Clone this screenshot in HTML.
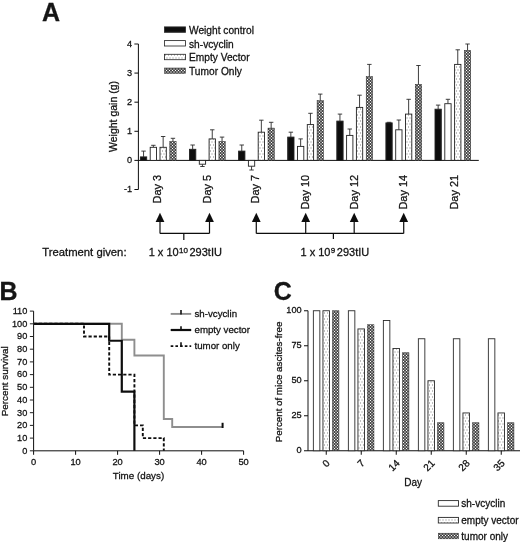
<!DOCTYPE html>
<html><head><meta charset="utf-8"><title>Figure</title>
<style>
html,body{margin:0;padding:0;background:#fff;}
body{width:520px;height:542px;overflow:hidden;font-family:"Liberation Sans",sans-serif;}
svg{display:block;}
text{font-family:"Liberation Sans",sans-serif;fill:#141414;stroke:#141414;stroke-width:0.28px;}
</style></head><body>
<svg width="520" height="542" viewBox="0 0 520 542">
<defs>
<pattern id="dots" width="3" height="6" patternUnits="userSpaceOnUse">
<rect width="3" height="6" fill="#fff"/><rect x="0" y="0.5" width="1" height="1" fill="#7d7d7d"/><rect x="1.5" y="3.5" width="1" height="1" fill="#7d7d7d"/>
</pattern>
<pattern id="hatch" width="3" height="3" patternUnits="userSpaceOnUse">
<rect width="3" height="3" fill="#0c0c0c"/>
<path d="M1.5 0.5L2.5 1.5L1.5 2.5L0.5 1.5ZM0 -1.0L1.0 0L0 1.0L-1.0 0ZM3 -1.0L4.0 0L3 1.0L2.0 0ZM0 2.0L1.0 3L0 4.0L-1.0 3ZM3 2.0L4.0 3L3 4.0L2.0 3Z" fill="#fff"/>
</pattern>
<filter id="soft" x="0" y="0" width="520" height="542" filterUnits="userSpaceOnUse"><feGaussianBlur stdDeviation="0.35"/></filter>
</defs>
<rect width="520" height="542" fill="#fff"/>
<g filter="url(#soft)">

<g id="panelA">
<text x="42" y="21" font-size="25" font-weight="bold">A</text>
<path d="M138.4 44.0V189.5M138.4 160.4H478.8" stroke="#111" stroke-width="1" fill="none"/>
<path d="M134.4 44.0H138.4" stroke="#111" stroke-width="1"/>
<text x="132.1" y="47" font-size="9.2" text-anchor="end">4</text>
<path d="M134.4 73.1H138.4" stroke="#111" stroke-width="1"/>
<text x="132.1" y="76" font-size="9.2" text-anchor="end">3</text>
<path d="M134.4 102.2H138.4" stroke="#111" stroke-width="1"/>
<text x="132.1" y="105" font-size="9.2" text-anchor="end">2</text>
<path d="M134.4 131.3H138.4" stroke="#111" stroke-width="1"/>
<text x="132.1" y="134" font-size="9.2" text-anchor="end">1</text>
<path d="M134.4 160.4H138.4" stroke="#111" stroke-width="1"/>
<text x="132.1" y="163" font-size="9.2" text-anchor="end">0</text>
<path d="M134.4 189.5H138.4" stroke="#111" stroke-width="1"/>
<text x="132.1" y="192" font-size="9.2" text-anchor="end">-1</text>
<text transform="translate(117.3 116.5) rotate(-90) scale(1.05 1)" font-size="10" text-anchor="middle">Weight gain (g)</text>
<path d="M143.55 156.9V151.1M141.35 151.1H145.75" stroke="#2a2a2a" stroke-width="0.9" fill="none"/>
<rect x="140.40" y="156.9" width="6.3" height="3.5" fill="#111" stroke="#222" stroke-width="0.9"/>
<path d="M153.35 147.3V145.3M151.15 145.3H155.55" stroke="#2a2a2a" stroke-width="0.9" fill="none"/>
<rect x="150.20" y="147.3" width="6.3" height="13.1" fill="#fff" stroke="#222" stroke-width="0.9"/>
<path d="M163.15 147.3V136.5M160.95 136.5H165.35" stroke="#2a2a2a" stroke-width="0.9" fill="none"/>
<rect x="160.00" y="147.3" width="6.3" height="13.1" fill="url(#dots)" stroke="#222" stroke-width="0.9"/>
<path d="M172.95 141.5V138.3M170.75 138.3H175.15" stroke="#2a2a2a" stroke-width="0.9" fill="none"/>
<path d="M192.65 149.3V145.0M190.45 145.0H194.85" stroke="#2a2a2a" stroke-width="0.9" fill="none"/>
<rect x="189.50" y="149.3" width="6.3" height="11.1" fill="#111" stroke="#222" stroke-width="0.9"/>
<path d="M202.45 164.2V166.5M200.25 166.5H204.65" stroke="#2a2a2a" stroke-width="0.9" fill="none"/>
<rect x="199.30" y="160.4" width="6.3" height="3.8" fill="#fff" stroke="#222" stroke-width="0.9"/>
<path d="M212.25 138.9V129.8M210.05 129.8H214.45" stroke="#2a2a2a" stroke-width="0.9" fill="none"/>
<rect x="209.10" y="138.9" width="6.3" height="21.5" fill="url(#dots)" stroke="#222" stroke-width="0.9"/>
<path d="M222.05 141.5V137.1M219.85 137.1H224.25" stroke="#2a2a2a" stroke-width="0.9" fill="none"/>
<path d="M241.75 151.1V145.0M239.55 145.0H243.95" stroke="#2a2a2a" stroke-width="0.9" fill="none"/>
<rect x="238.60" y="151.1" width="6.3" height="9.3" fill="#111" stroke="#222" stroke-width="0.9"/>
<path d="M251.55 166.2V170.0M249.35 170.0H253.75" stroke="#2a2a2a" stroke-width="0.9" fill="none"/>
<rect x="248.40" y="160.4" width="6.3" height="5.8" fill="#fff" stroke="#222" stroke-width="0.9"/>
<path d="M261.35 132.2V120.2M259.15 120.2H263.55" stroke="#2a2a2a" stroke-width="0.9" fill="none"/>
<rect x="258.20" y="132.2" width="6.3" height="28.2" fill="url(#dots)" stroke="#222" stroke-width="0.9"/>
<path d="M271.15 128.1V122.3M268.95 122.3H273.35" stroke="#2a2a2a" stroke-width="0.9" fill="none"/>
<path d="M290.85 137.1V132.2M288.65 132.2H293.05" stroke="#2a2a2a" stroke-width="0.9" fill="none"/>
<rect x="287.70" y="137.1" width="6.3" height="23.3" fill="#111" stroke="#222" stroke-width="0.9"/>
<path d="M300.65 146.4V138.9M298.45 138.9H302.85" stroke="#2a2a2a" stroke-width="0.9" fill="none"/>
<rect x="297.50" y="146.4" width="6.3" height="14.0" fill="#fff" stroke="#222" stroke-width="0.9"/>
<path d="M310.45 124.6V113.3M308.25 113.3H312.65" stroke="#2a2a2a" stroke-width="0.9" fill="none"/>
<rect x="307.30" y="124.6" width="6.3" height="35.8" fill="url(#dots)" stroke="#222" stroke-width="0.9"/>
<path d="M320.25 100.7V94.1M318.05 94.1H322.45" stroke="#2a2a2a" stroke-width="0.9" fill="none"/>
<path d="M339.95 121.1V114.1M337.75 114.1H342.15" stroke="#2a2a2a" stroke-width="0.9" fill="none"/>
<rect x="336.80" y="121.1" width="6.3" height="39.3" fill="#111" stroke="#222" stroke-width="0.9"/>
<path d="M349.75 135.4V129.0M347.55 129.0H351.95" stroke="#2a2a2a" stroke-width="0.9" fill="none"/>
<rect x="346.60" y="135.4" width="6.3" height="25.0" fill="#fff" stroke="#222" stroke-width="0.9"/>
<path d="M359.55 107.4V95.2M357.35 95.2H361.75" stroke="#2a2a2a" stroke-width="0.9" fill="none"/>
<rect x="356.40" y="107.4" width="6.3" height="53.0" fill="url(#dots)" stroke="#222" stroke-width="0.9"/>
<path d="M369.35 76.6V64.4M367.15 64.4H371.55" stroke="#2a2a2a" stroke-width="0.9" fill="none"/>
<path d="M389.05 122.9V122.3M386.85 122.3H391.25" stroke="#2a2a2a" stroke-width="0.9" fill="none"/>
<rect x="385.90" y="122.9" width="6.3" height="37.5" fill="#111" stroke="#222" stroke-width="0.9"/>
<path d="M398.85 129.8V120.0M396.65 120.0H401.05" stroke="#2a2a2a" stroke-width="0.9" fill="none"/>
<rect x="395.70" y="129.8" width="6.3" height="30.6" fill="#fff" stroke="#222" stroke-width="0.9"/>
<path d="M408.65 114.1V99.3M406.45 99.3H410.85" stroke="#2a2a2a" stroke-width="0.9" fill="none"/>
<rect x="405.50" y="114.1" width="6.3" height="46.3" fill="url(#dots)" stroke="#222" stroke-width="0.9"/>
<path d="M418.45 84.4V65.5M416.25 65.5H420.65" stroke="#2a2a2a" stroke-width="0.9" fill="none"/>
<path d="M438.15 109.2V105.1M435.95 105.1H440.35" stroke="#2a2a2a" stroke-width="0.9" fill="none"/>
<rect x="435.00" y="109.2" width="6.3" height="51.2" fill="#111" stroke="#222" stroke-width="0.9"/>
<path d="M447.95 103.7V99.3M445.75 99.3H450.15" stroke="#2a2a2a" stroke-width="0.9" fill="none"/>
<rect x="444.80" y="103.7" width="6.3" height="56.7" fill="#fff" stroke="#222" stroke-width="0.9"/>
<path d="M457.75 64.4V49.8M455.55 49.8H459.95" stroke="#2a2a2a" stroke-width="0.9" fill="none"/>
<rect x="454.60" y="64.4" width="6.3" height="96.0" fill="url(#dots)" stroke="#222" stroke-width="0.9"/>
<path d="M467.55 50.4V44.0M465.35 44.0H469.75" stroke="#2a2a2a" stroke-width="0.9" fill="none"/>
<text transform="translate(160.9 175) rotate(-90)" font-size="10.9" text-anchor="end">Day 3</text>
<text transform="translate(210.9 175) rotate(-90)" font-size="10.9" text-anchor="end">Day 5</text>
<text transform="translate(259.4 175) rotate(-90)" font-size="10.9" text-anchor="end">Day 7</text>
<text transform="translate(309.4 175) rotate(-90)" font-size="10.9" text-anchor="end">Day 10</text>
<text transform="translate(357.9 175) rotate(-90)" font-size="10.9" text-anchor="end">Day 12</text>
<text transform="translate(406.9 175) rotate(-90)" font-size="10.9" text-anchor="end">Day 14</text>
<text transform="translate(457.9 175) rotate(-90)" font-size="10.9" text-anchor="end">Day 21</text>
<rect x="164.5" y="26.9" width="21" height="5.4" fill="#111" stroke="#2a2a2a" stroke-width="0.85"/>
<text x="189" y="33.9" font-size="10.2">Weight control</text>
<rect x="164.5" y="40.6" width="21" height="5.4" fill="#fff" stroke="#2a2a2a" stroke-width="0.85"/>
<text x="189" y="47.6" font-size="10.2">sh-vcyclin</text>
<rect x="164.5" y="54.3" width="21" height="5.4" fill="url(#dots)" stroke="#2a2a2a" stroke-width="0.85"/>
<text x="189" y="61.3" font-size="10.2">Empty Vector</text>
<text x="189" y="75.0" font-size="10.2">Tumor Only</text>
<path d="M160 218.7V233.4" stroke="#111" stroke-width="1.2" fill="none"/>
<path d="M160 212.7L164.4 222.0H155.6Z" fill="#111"/>
<path d="M209.5 218.7V233.4" stroke="#111" stroke-width="1.2" fill="none"/>
<path d="M209.5 212.7L213.9 222.0H205.1Z" fill="#111"/>
<path d="M160 233.4H209.5M183.8 233.4V240" stroke="#111" stroke-width="1.2" fill="none"/>
<path d="M256.3 218.7V233.4" stroke="#111" stroke-width="1.2" fill="none"/>
<path d="M256.3 212.7L260.7 222.0H251.9Z" fill="#111"/>
<path d="M305.7 218.7V233.4" stroke="#111" stroke-width="1.2" fill="none"/>
<path d="M305.7 212.7L310.09999999999997 222.0H301.3Z" fill="#111"/>
<path d="M354.2 218.7V233.4" stroke="#111" stroke-width="1.2" fill="none"/>
<path d="M354.2 212.7L358.59999999999997 222.0H349.8Z" fill="#111"/>
<path d="M403.7 218.7V233.4" stroke="#111" stroke-width="1.2" fill="none"/>
<path d="M403.7 212.7L408.09999999999997 222.0H399.3Z" fill="#111"/>
<path d="M256.3 233.4H403.7M333.4 233.4V239" stroke="#111" stroke-width="1.2" fill="none"/>
<text x="42.2" y="256" font-size="11.3">Treatment given:</text>
<text x="148.7" y="256" font-size="11">1 x 10<tspan font-size="8" dy="-3.3" dx="0.3">10</tspan><tspan dy="3.3" dx="1.6">293tIU</tspan></text>
<text x="300.5" y="256" font-size="11">1 x 10<tspan font-size="8" dy="-3.3" dx="0.3">9</tspan><tspan dy="3.3" dx="1.6">293tIU</tspan></text>
</g>
<g id="panelB">
<text x="-0.6" y="300" font-size="25" font-weight="bold">B</text>
<path d="M33.6 311.10V450.8H243.6" stroke="#111" stroke-width="1" fill="none"/>
<path d="M29.900000000000002 450.80H33.6" stroke="#222" stroke-width="1"/>
<text x="27.3" y="454" font-size="9.2" text-anchor="end">0</text>
<path d="M29.900000000000002 438.10H33.6" stroke="#222" stroke-width="1"/>
<text x="27.3" y="441" font-size="9.2" text-anchor="end">10</text>
<path d="M29.900000000000002 425.40H33.6" stroke="#222" stroke-width="1"/>
<text x="27.3" y="428" font-size="9.2" text-anchor="end">20</text>
<path d="M29.900000000000002 412.70H33.6" stroke="#222" stroke-width="1"/>
<text x="27.3" y="416" font-size="9.2" text-anchor="end">30</text>
<path d="M29.900000000000002 400.00H33.6" stroke="#222" stroke-width="1"/>
<text x="27.3" y="403" font-size="9.2" text-anchor="end">40</text>
<path d="M29.900000000000002 387.30H33.6" stroke="#222" stroke-width="1"/>
<text x="27.3" y="390" font-size="9.2" text-anchor="end">50</text>
<path d="M29.900000000000002 374.60H33.6" stroke="#222" stroke-width="1"/>
<text x="27.3" y="377" font-size="9.2" text-anchor="end">60</text>
<path d="M29.900000000000002 361.90H33.6" stroke="#222" stroke-width="1"/>
<text x="27.3" y="365" font-size="9.2" text-anchor="end">70</text>
<path d="M29.900000000000002 349.20H33.6" stroke="#222" stroke-width="1"/>
<text x="27.3" y="352" font-size="9.2" text-anchor="end">80</text>
<path d="M29.900000000000002 336.50H33.6" stroke="#222" stroke-width="1"/>
<text x="27.3" y="339" font-size="9.2" text-anchor="end">90</text>
<path d="M29.900000000000002 323.80H33.6" stroke="#222" stroke-width="1"/>
<text x="27.3" y="327" font-size="9.2" text-anchor="end">100</text>
<path d="M29.900000000000002 311.10H33.6" stroke="#222" stroke-width="1"/>
<text x="27.3" y="314" font-size="9.2" text-anchor="end">110</text>
<path d="M33.6 450.8V454.8" stroke="#111" stroke-width="1"/>
<text x="33.6" y="465.2" font-size="9.3" text-anchor="middle">0</text>
<path d="M75.6 450.8V454.8" stroke="#111" stroke-width="1"/>
<text x="75.6" y="465.2" font-size="9.3" text-anchor="middle">10</text>
<path d="M117.6 450.8V454.8" stroke="#111" stroke-width="1"/>
<text x="117.6" y="465.2" font-size="9.3" text-anchor="middle">20</text>
<path d="M159.6 450.8V454.8" stroke="#111" stroke-width="1"/>
<text x="159.6" y="465.2" font-size="9.3" text-anchor="middle">30</text>
<path d="M201.6 450.8V454.8" stroke="#111" stroke-width="1"/>
<text x="201.6" y="465.2" font-size="9.3" text-anchor="middle">40</text>
<path d="M243.6 450.8V454.8" stroke="#111" stroke-width="1"/>
<text x="243.6" y="465.2" font-size="9.3" text-anchor="middle">50</text>
<text x="138.5" y="479" font-size="9.8" text-anchor="middle">Time (days)</text>
<text transform="translate(8.2 381.3) rotate(-90) scale(1.05 1)" font-size="9.4" text-anchor="middle">Percent survival</text>
<path d="M33.60 323.80H121.80V339.68H134.40V355.55H163.80V419.05H172.20V426.99H222.60" stroke="#8e8e8e" stroke-width="1.9" fill="none"/>
<path d="M222.60 422.79v5.2" stroke="#111" stroke-width="2"/>
<path d="M33.60 323.80H84.00V336.50H109.20V374.60H134.40V425.40H142.80V438.10H163.80V450.80" stroke="#111" stroke-width="1.9" stroke-dasharray="3.2 2" fill="none"/>
<path d="M33.60 323.80H109.20V340.73H121.80V391.53H134.40V450.80" stroke="#111" stroke-width="2.2" fill="none"/>
<path d="M170.7 313.9H191.2" stroke="#8e8e8e" stroke-width="1.9"/>
<path d="M170.7 330.0H191.2" stroke="#111" stroke-width="2.2"/>
<path d="M170.7 346.1H191.2" stroke="#111" stroke-width="1.9" stroke-dasharray="2.6 2.1"/>
<path d="M181 310.09999999999997v4.4" stroke="#111" stroke-width="1.6"/>
<path d="M181 326.2v4.4" stroke="#111" stroke-width="1.6"/>
<path d="M181 342.3v4.4" stroke="#111" stroke-width="1.6"/>
<text x="194.5" y="317.1" font-size="9.7">sh-vcyclin</text>
<text x="194.5" y="333.2" font-size="9.7">empty vector</text>
<text x="194.5" y="349.3" font-size="9.7">tumor only</text>
</g>
<g id="panelC">
<text x="273.7" y="300" font-size="25" font-weight="bold">C</text>
<path d="M308 310.75V450.75H520" stroke="#111" stroke-width="1" fill="none"/>
<path d="M304 450.75H308" stroke="#111" stroke-width="1"/>
<text x="301.7" y="453" font-size="9.2" text-anchor="end">0</text>
<path d="M304 415.75H308" stroke="#111" stroke-width="1"/>
<text x="301.7" y="418" font-size="9.2" text-anchor="end">25</text>
<path d="M304 380.75H308" stroke="#111" stroke-width="1"/>
<text x="301.7" y="383" font-size="9.2" text-anchor="end">50</text>
<path d="M304 345.75H308" stroke="#111" stroke-width="1"/>
<text x="301.7" y="348" font-size="9.2" text-anchor="end">75</text>
<path d="M304 310.75H308" stroke="#111" stroke-width="1"/>
<text x="301.7" y="313" font-size="9.2" text-anchor="end">100</text>
<rect x="313.35" y="310.75" width="6.5" height="140.00" fill="#fff" stroke="#2a2a2a" stroke-width="0.9"/>
<rect x="322.95" y="310.75" width="6.5" height="140.00" fill="url(#dots)" stroke="#2a2a2a" stroke-width="0.9"/>
<path d="M326.25 450.75V454.75" stroke="#111" stroke-width="1"/>
<text transform="translate(330.45 463.8) rotate(-45)" font-size="10" text-anchor="end">0</text>
<rect x="348.35" y="310.75" width="6.5" height="140.00" fill="#fff" stroke="#2a2a2a" stroke-width="0.9"/>
<rect x="357.95" y="328.95" width="6.5" height="121.80" fill="url(#dots)" stroke="#2a2a2a" stroke-width="0.9"/>
<path d="M361.25 450.75V454.75" stroke="#111" stroke-width="1"/>
<text transform="translate(365.45 463.8) rotate(-45)" font-size="10" text-anchor="end">7</text>
<rect x="383.35" y="320.55" width="6.5" height="130.20" fill="#fff" stroke="#2a2a2a" stroke-width="0.9"/>
<rect x="392.95" y="348.55" width="6.5" height="102.20" fill="url(#dots)" stroke="#2a2a2a" stroke-width="0.9"/>
<path d="M396.25 450.75V454.75" stroke="#111" stroke-width="1"/>
<text transform="translate(400.45 463.8) rotate(-45)" font-size="10" text-anchor="end">14</text>
<rect x="418.35" y="338.75" width="6.5" height="112.00" fill="#fff" stroke="#2a2a2a" stroke-width="0.9"/>
<rect x="427.95" y="380.75" width="6.5" height="70.00" fill="url(#dots)" stroke="#2a2a2a" stroke-width="0.9"/>
<path d="M431.25 450.75V454.75" stroke="#111" stroke-width="1"/>
<text transform="translate(435.45 463.8) rotate(-45)" font-size="10" text-anchor="end">21</text>
<rect x="453.35" y="338.75" width="6.5" height="112.00" fill="#fff" stroke="#2a2a2a" stroke-width="0.9"/>
<rect x="462.95" y="412.95" width="6.5" height="37.80" fill="url(#dots)" stroke="#2a2a2a" stroke-width="0.9"/>
<path d="M466.25 450.75V454.75" stroke="#111" stroke-width="1"/>
<text transform="translate(470.45 463.8) rotate(-45)" font-size="10" text-anchor="end">28</text>
<rect x="488.35" y="338.75" width="6.5" height="112.00" fill="#fff" stroke="#2a2a2a" stroke-width="0.9"/>
<rect x="497.95" y="412.95" width="6.5" height="37.80" fill="url(#dots)" stroke="#2a2a2a" stroke-width="0.9"/>
<path d="M501.25 450.75V454.75" stroke="#111" stroke-width="1"/>
<text transform="translate(505.45 463.8) rotate(-45)" font-size="10" text-anchor="end">35</text>
<text x="413.2" y="486" font-size="10" text-anchor="middle">Day</text>
<text transform="translate(282.3 381.9) rotate(-90) scale(1.036 1)" font-size="9.4" text-anchor="middle">Percent of mice ascites-free</text>
<rect x="438.3" y="500.59999999999997" width="20.2" height="5.6" fill="#fff" stroke="#2a2a2a" stroke-width="0.9"/>
<text x="461.3" y="506.9" font-size="10">sh-vcyclin</text>
<rect x="438.3" y="517.4000000000001" width="20.2" height="5.6" fill="url(#dots)" stroke="#2a2a2a" stroke-width="0.9"/>
<text x="461.3" y="523.7" font-size="10">empty vector</text>
<text x="461.3" y="539.5" font-size="10">tumor only</text>
</g>
</g>
<g id="hatched">
<rect x="169.80" y="141.5" width="6.3" height="18.9" fill="url(#hatch)" stroke="#222" stroke-width="0.5"/>
<rect x="218.90" y="141.5" width="6.3" height="18.9" fill="url(#hatch)" stroke="#222" stroke-width="0.5"/>
<rect x="268.00" y="128.1" width="6.3" height="32.3" fill="url(#hatch)" stroke="#222" stroke-width="0.5"/>
<rect x="317.10" y="100.7" width="6.3" height="59.7" fill="url(#hatch)" stroke="#222" stroke-width="0.5"/>
<rect x="366.20" y="76.6" width="6.3" height="83.8" fill="url(#hatch)" stroke="#222" stroke-width="0.5"/>
<rect x="415.30" y="84.4" width="6.3" height="76.0" fill="url(#hatch)" stroke="#222" stroke-width="0.5"/>
<rect x="464.40" y="50.4" width="6.3" height="110.0" fill="url(#hatch)" stroke="#222" stroke-width="0.5"/>
<rect x="164.5" y="68.0" width="21" height="5.4" fill="url(#hatch)" stroke="#2a2a2a" stroke-width="0.5"/>
<rect x="332.45" y="310.75" width="6.5" height="140.00" fill="url(#hatch)" stroke="#2a2a2a" stroke-width="0.5"/>
<rect x="367.45" y="324.75" width="6.5" height="126.00" fill="url(#hatch)" stroke="#2a2a2a" stroke-width="0.5"/>
<rect x="402.45" y="352.75" width="6.5" height="98.00" fill="url(#hatch)" stroke="#2a2a2a" stroke-width="0.5"/>
<rect x="437.45" y="422.75" width="6.5" height="28.00" fill="url(#hatch)" stroke="#2a2a2a" stroke-width="0.5"/>
<rect x="472.45" y="422.75" width="6.5" height="28.00" fill="url(#hatch)" stroke="#2a2a2a" stroke-width="0.5"/>
<rect x="507.45" y="422.75" width="6.5" height="28.00" fill="url(#hatch)" stroke="#2a2a2a" stroke-width="0.5"/>
<rect x="438.3" y="533.2" width="20.2" height="5.6" fill="url(#hatch)" stroke="#2a2a2a" stroke-width="0.5"/>
</g>
</svg></body></html>
